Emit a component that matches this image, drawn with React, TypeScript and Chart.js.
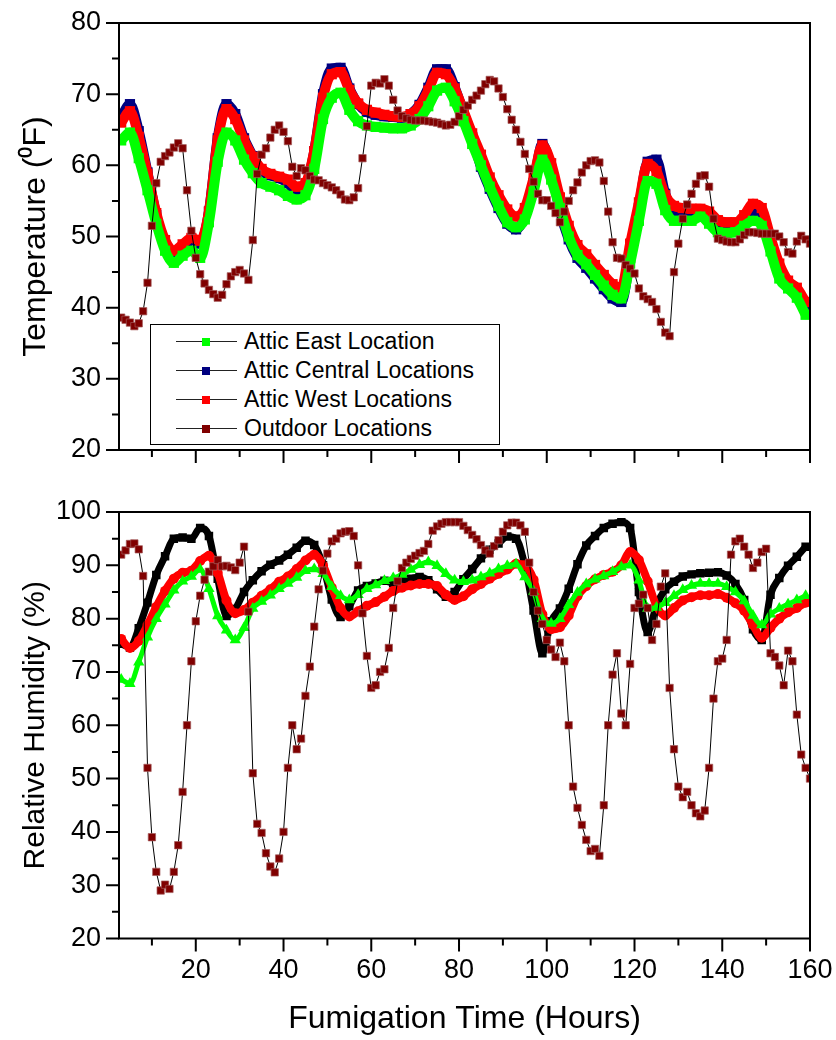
import React, { useEffect, useRef } from 'react';
import { Chart, registerables } from 'chart.js';

Chart.register(...registerables);

const FONT = '"Liberation Sans", Arial, sans-serif';
Chart.defaults.font.family = FONT;

// Sampling hours
const hoursAttic = [3, 5, 7, 9, 11, 13, 15, 17, 19, 21, 23, 25, 27, 29, 31, 33, 35, 37, 39, 41, 43, 45, 47, 49, 51, 53, 55, 57, 59, 61, 63, 65, 67, 69, 71, 73, 75, 77, 79, 81, 83, 85, 87, 89, 91, 93, 95, 97, 99, 101, 103, 105, 107, 109, 111, 113, 115, 117, 119, 121, 123, 125, 127, 129, 131, 133, 135, 137, 139, 141, 143, 145, 147, 149, 151, 153, 155, 157, 159];
const hoursOut = [3, 4, 5, 6, 7, 8, 9, 10, 11, 12, 13, 14, 15, 16, 17, 18, 19, 20, 21, 22, 23, 24, 25, 26, 27, 28, 29, 30, 31, 32, 33, 34, 35, 36, 37, 38, 39, 40, 41, 42, 43, 44, 45, 46, 47, 48, 49, 50, 51, 52, 53, 54, 55, 56, 57, 58, 59, 60, 61, 62, 63, 64, 65, 66, 67, 68, 69, 70, 71, 72, 73, 74, 75, 76, 77, 78, 79, 80, 81, 82, 83, 84, 85, 86, 87, 88, 89, 90, 91, 92, 93, 94, 95, 96, 97, 98, 99, 100, 101, 102, 103, 104, 105, 106, 107, 108, 109, 110, 111, 112, 113, 114, 115, 116, 117, 118, 119, 120, 121, 122, 123, 124, 125, 126, 127, 128, 129, 130, 131, 132, 133, 134, 135, 136, 137, 138, 139, 140, 141, 142, 143, 144, 145, 146, 147, 148, 149, 150, 151, 152, 153, 154, 155, 156, 157, 158, 159, 160];

// Temperature (F)
const tempEast = [63.5, 64.6, 61.0, 56.5, 51.8, 48.0, 46.3, 47.3, 48.0, 47.0,
  52.0, 60.5, 64.6, 63.5, 60.8, 58.9, 57.5, 57.0, 56.5, 55.7,
  55.2, 55.8, 59.5, 66.5, 69.5, 70.2, 67.8, 66.2, 65.6, 65.4,
  65.3, 65.2, 65.2, 65.6, 66.5, 68.3, 70.5, 70.9, 69.0, 66.2,
  63.0, 60.0, 57.0, 54.3, 52.0, 51.3, 52.4, 56.3, 60.8, 58.0,
  54.0, 50.0, 47.4, 46.1, 44.6, 43.1, 41.8, 41.3, 46.2, 52.2,
  57.8, 57.4, 53.7, 52.2, 52.2, 52.2, 52.8, 51.8, 50.6, 50.5,
  50.6, 51.5, 52.2, 51.5, 47.9, 44.1, 42.7, 41.4, 39.0];
const tempCentral = [66.8, 68.6, 64.8, 59.0, 53.0, 48.8, 47.0, 48.0, 49.5, 49.0,
  53.5, 63.8, 68.6, 67.2, 63.8, 61.3, 59.2, 58.6, 58.2, 57.5,
  56.3, 57.0, 62.0, 70.0, 73.6, 73.7, 70.8, 68.6, 67.5, 67.1,
  66.9, 66.8, 66.7, 67.2, 68.5, 70.9, 73.5, 73.5, 71.0, 67.5,
  64.0, 59.8, 56.7, 54.0, 51.8, 51.0, 52.8, 57.5, 63.0, 59.5,
  53.6, 49.6, 47.0, 45.6, 44.1, 42.6, 41.3, 40.8, 47.0, 54.0,
  60.5, 60.8, 56.0, 53.5, 53.2, 53.0, 53.2, 52.5, 51.3, 51.1,
  51.2, 52.0, 53.3, 53.0, 48.6, 45.0, 43.0, 42.0, 39.8];
const tempWest = [66.0, 67.6, 64.0, 58.8, 53.3, 49.5, 48.0, 48.9, 49.8, 49.4,
  53.5, 63.5, 67.9, 66.5, 63.5, 61.2, 59.5, 58.8, 58.4, 58.0,
  57.0, 57.5, 62.0, 69.5, 72.8, 73.1, 70.6, 68.7, 67.8, 67.4,
  67.1, 66.9, 66.8, 67.2, 68.3, 70.5, 73.0, 72.8, 70.8, 67.7,
  64.5, 61.5, 58.3, 55.8, 53.8, 52.8, 54.0, 58.2, 62.8, 60.3,
  55.5, 51.5, 48.8, 47.5, 46.0, 44.6, 43.3, 42.8, 49.0, 54.8,
  60.2, 59.2, 55.8, 54.3, 54.0, 53.9, 53.9, 53.5, 52.3, 52.0,
  52.0, 53.0, 54.6, 54.0, 49.9, 46.2, 43.8, 42.8, 40.8];
const tempOutdoor = [38.6, 38.3, 37.9, 37.4, 37.8, 39.5, 43.5, 51.5, 57.5, 60.5,
  61.3, 61.8, 62.5, 63.1, 62.4, 56.5, 50.8, 47.0, 44.7, 43.4,
  42.5, 41.9, 41.4, 41.8, 43.3, 44.4, 45.0, 45.3, 44.8, 43.9,
  49.5, 58.8, 61.5, 62.4, 63.9, 65.0, 65.6, 64.7, 63.4, 59.8,
  58.5, 59.6, 59.3, 58.5, 58.0, 57.9, 57.5, 57.2, 56.9, 56.5,
  55.9, 55.2, 55.1, 55.5, 56.8, 61.0, 65.5, 71.2, 71.6, 71.5,
  72.1, 71.2, 69.2, 67.7, 66.9, 66.6, 66.4, 66.3, 66.3, 66.3,
  66.2, 66.1, 66.0, 65.8, 65.6, 65.7, 66.1, 66.9, 67.8, 68.4,
  69.2, 69.8, 70.5, 71.4, 72.0, 71.8, 70.8, 69.6, 67.9, 66.4,
  65.0, 63.3, 61.6, 59.5, 57.7, 56.0, 55.1, 55.1, 54.3, 53.3,
  52.0, 53.5, 55.0, 56.5, 57.6, 59.0, 60.0, 60.6, 60.7, 60.4,
  57.8, 53.5, 49.2, 47.0, 46.9, 46.0, 45.5, 44.8, 42.7, 41.6,
  41.2, 40.8, 39.8, 38.0, 36.5, 36.0, 45.0, 49.0, 52.5, 54.5,
  56.0, 57.4, 58.5, 58.6, 57.0, 52.5, 49.7, 49.5, 49.3, 49.2,
  49.2, 49.6, 50.2, 50.6, 50.6, 50.5, 50.4, 50.4, 50.4, 50.4,
  50.0, 49.2, 47.8, 47.6, 49.3, 50.1, 49.6, 49.0];

// Relative humidity (%)
const rhEast = [68.6, 67.8, 71.8, 76.5, 80.0, 82.7, 85.3, 87.0, 87.9, 89.2,
  85.6, 80.5, 77.8, 76.0, 78.3, 81.9, 83.2, 84.4, 85.6, 86.6,
  87.7, 89.0, 89.3, 88.4, 86.0, 84.3, 83.5, 84.5, 85.6, 86.3,
  87.1, 87.6, 88.3, 89.2, 90.1, 90.6, 89.9, 88.4, 87.2, 86.9,
  87.2, 87.8, 88.5, 89.3, 89.9, 90.2, 87.8, 85.1, 80.0, 79.1,
  80.0, 82.6, 84.9, 86.5, 87.4, 88.0, 88.8, 89.7, 90.0, 87.2,
  81.9, 82.1, 83.0, 84.3, 85.4, 86.2, 86.6, 86.6, 86.6, 86.0,
  85.0, 83.3, 80.6, 78.8, 80.8, 81.9, 82.7, 83.5, 84.3];
const rhCentral = [75.3, 74.6, 78.2, 83.0, 88.2, 91.7, 95.0, 95.2, 95.0, 97.0,
  95.5, 87.5, 80.5, 81.8, 85.0, 87.2, 88.9, 90.1, 90.9, 92.0,
  93.3, 94.6, 93.8, 90.0, 83.6, 80.3, 82.3, 85.3, 86.1, 86.6,
  87.1, 86.7, 87.2, 87.5, 87.8, 87.2, 85.5, 84.1, 85.0, 87.4,
  89.3, 91.3, 92.9, 94.1, 95.4, 95.0, 90.0, 81.5, 73.5, 79.5,
  81.9, 85.6, 90.2, 93.7, 95.5, 97.0, 97.8, 98.1, 97.0, 85.0,
  77.5, 82.5, 85.5, 86.9, 87.9, 88.3, 88.5, 88.6, 88.7, 88.1,
  86.5, 83.5, 78.0, 76.0, 84.5, 87.6, 89.9, 91.6, 93.5];
const rhWest = [76.2, 74.5, 75.8, 78.8, 82.2, 85.2, 87.5, 88.6, 89.0, 90.8,
  91.8, 88.6, 83.4, 81.0, 81.6, 83.0, 84.3, 85.5, 86.9, 87.9,
  89.3, 90.9, 92.0, 90.0, 85.8, 82.0, 80.4, 81.4, 82.4, 83.1,
  84.1, 85.2, 85.8, 86.2, 86.5, 86.5, 86.1, 84.5, 83.5, 84.2,
  85.5, 86.5, 87.5, 88.4, 89.2, 90.3, 90.0, 87.3, 80.8, 78.0,
  78.4, 80.6, 84.2, 86.1, 87.4, 88.2, 88.8, 90.0, 92.5, 91.0,
  87.0, 82.4, 80.6, 82.0, 83.4, 84.0, 84.4, 84.4, 84.6, 83.9,
  82.9, 81.5, 78.8, 76.4, 78.3, 80.0, 81.2, 82.0, 83.0];
const rhOutdoor = [92.0, 92.8, 94.0, 94.1, 93.0, 88.0, 52.0, 39.0, 32.5, 29.0,
  30.1, 29.3, 32.5, 37.5, 47.5, 60.0, 72.0, 79.5, 84.3, 87.3,
  88.8, 89.8, 91.0, 89.8, 89.9, 89.6, 89.1, 90.5, 93.5, 81.3,
  51.0, 41.5, 39.8, 36.0, 33.5, 32.4, 35.0, 40.0, 52.0, 60.0,
  55.5, 57.5, 65.5, 71.0, 78.5, 85.5, 89.0, 92.2, 94.5, 95.0,
  96.0, 96.3, 96.4, 95.5, 90.0, 81.0, 73.0, 67.0, 67.5, 70.0,
  70.5, 74.5, 82.0, 87.0, 89.5, 90.5, 91.2, 91.8, 92.3, 92.7,
  94.0, 96.5, 97.3, 97.8, 98.1, 98.1, 98.1, 98.1, 97.4, 96.6,
  95.7, 94.9, 93.8, 92.8, 92.2, 93.6, 94.7, 96.3, 97.5, 98.0,
  98.0, 97.5, 96.3, 90.5, 85.0, 81.5, 79.0, 76.0, 74.2, 72.8,
  75.5, 72.0, 60.0, 48.5, 44.5, 41.3, 38.5, 36.4, 36.8, 35.5,
  45.0, 60.0, 69.5, 73.5, 62.2, 60.0, 71.5, 82.0, 82.8, 84.5,
  82.0, 76.0, 79.0, 86.0, 88.5, 67.0, 55.5, 48.5, 46.5, 47.5,
  45.0, 43.5, 42.9, 44.0, 52.0, 65.0, 72.0, 72.5, 76.0, 92.0,
  94.5, 95.0, 93.5, 92.0, 89.5, 90.5, 92.5, 93.1, 73.5, 72.8,
  71.2, 67.5, 74.0, 72.0, 62.0, 54.5, 52.0, 50.0];

// Ticks
const xTickValues = [10, 20, 30, 40, 50, 60, 70, 80, 90, 100, 110, 120, 130, 140, 150, 160];
const tempTickValues = [20, 25, 30, 35, 40, 45, 50, 55, 60, 65, 70, 75, 80];
const rhTickValues = [20, 25, 30, 35, 40, 45, 50, 55, 60, 65, 70, 75, 80, 85, 90, 95, 100];

const legendItems = [
  { label: 'Attic East Location', color: '#00ff00' },
  { label: 'Attic Central Locations', color: '#000080' },
  { label: 'Attic West Locations', color: '#ff0000' },
  { label: 'Outdoor Locations', color: '#800000' },
];

const pts = (hours: number[], vals: number[]) => hours.map((h, i) => ({ x: h, y: vals[i] }));

const framePlugin = {
  id: 'frame',
  afterDraw(chart: any, _args: any, opts: any) {
    const { ctx, chartArea: a, scales } = chart;
    const x = scales.x;
    const y = scales.y;
    ctx.save();
    ctx.strokeStyle = '#000';
    ctx.lineWidth = 2;
    ctx.strokeRect(a.left, a.top, a.right - a.left, a.bottom - a.top);
    ctx.beginPath();
    for (const v of opts.xTicks) {
      const px = x.getPixelForValue(v);
      const len = v % 20 === 0 ? 13 : 7;
      ctx.moveTo(px, a.bottom);
      ctx.lineTo(px, a.bottom + len);
    }
    for (const v of opts.yTicks) {
      const py = y.getPixelForValue(v);
      const len = v % 10 === 0 ? 13 : 7;
      ctx.moveTo(a.left - len, py);
      ctx.lineTo(a.left, py);
    }
    ctx.stroke();
    ctx.restore();
  },
};

const outdoorStyle = {
  borderColor: '#000',
  borderWidth: 1,
  pointStyle: 'rect',
  pointRadius: 5.2,
  pointBackgroundColor: '#800000',
  pointBorderColor: '#a35a5a',
  pointBorderWidth: 0.7,
  tension: 0,
  clip: 0,
};

const band = (color: string, width: number, style: string, radius: number) => ({
  borderColor: color,
  borderWidth: width,
  pointStyle: style,
  pointRadius: radius,
  pointBackgroundColor: color,
  pointBorderWidth: 0,
  cubicInterpolationMode: 'monotone',
  borderJoinStyle: 'round',
  clip: 0,
});

const xScale = (showLabels: boolean, height: number, title?: string) => ({
  type: 'linear',
  min: 2.5,
  max: 160,
  grid: { display: false, drawTicks: true, tickLength: 13 },
  border: { display: false },
  ticks: {
    display: showLabels,
    stepSize: 20,
    autoSkip: false,
    maxRotation: 0,
    padding: 3,
    color: '#000',
    font: { family: FONT, size: 27 },
    callback: (v: number) => (v % 20 === 0 ? String(v) : ''),
  },
  title: title
    ? { display: true, text: title, color: '#000', font: { family: FONT, size: 32 }, padding: { top: 0, bottom: 2 } }
    : { display: false },
  afterFit: (s: any) => {
    s.height = height;
  },
});

const yScale = (min: number, max: number, title: string, size: number) => ({
  type: 'linear',
  min,
  max,
  grid: { display: false, drawTicks: true, tickLength: 13 },
  border: { display: false },
  ticks: {
    stepSize: 10,
    padding: 5,
    color: '#000',
    font: { family: FONT, size: 27 },
  },
  title: { display: true, text: title, color: '#000', font: { family: FONT, size }, padding: { top: 36 - size * 0.6, bottom: 0 } },
  afterFit: (s: any) => {
    s.width = 119;
  },
});

function topConfig(): any {
  return {
    type: 'line',
    data: {
      datasets: [
        { label: 'Outdoor Locations', data: pts(hoursOut, tempOutdoor), ...outdoorStyle },
        { label: 'Attic East Location', data: pts(hoursAttic, tempEast), ...band('#00ff00', 10, 'rect', 7.2) },
        { label: 'Attic West Locations', data: pts(hoursAttic, tempWest), ...band('#ff0000', 10, 'rect', 7.2) },
        { label: 'Attic Central Locations', data: pts(hoursAttic, tempCentral), ...band('#000080', 10, 'rect', 7.2) },
      ],
    },
    options: {
      animation: false,
      responsive: false,
      devicePixelRatio: 1,
      layout: { padding: { top: 23, right: 26, bottom: 0, left: 0 } },
      plugins: {
        legend: { display: false },
        tooltip: { enabled: false },
        frame: { xTicks: xTickValues, yTicks: tempTickValues },
      },
      scales: {
        x: xScale(false, 30),
        y: yScale(20, 80, 'Temperature (\u2070F)', 32),
      },
    },
    plugins: [framePlugin],
  };
}

function bottomConfig(): any {
  return {
    type: 'line',
    data: {
      datasets: [
        { label: 'Outdoor Locations', data: pts(hoursOut, rhOutdoor), ...outdoorStyle },
        { label: 'Attic East Location', data: pts(hoursAttic, rhEast), ...band('#00ff00', 5, 'triangle', 6.5) },
        { label: 'Attic West Locations', data: pts(hoursAttic, rhWest), ...band('#ff0000', 8, 'circle', 5) },
        { label: 'Attic Central Locations', data: pts(hoursAttic, rhCentral), ...band('#000000', 7, 'rect', 6) },
      ],
    },
    options: {
      animation: false,
      responsive: false,
      devicePixelRatio: 1,
      layout: { padding: { top: 32, right: 26, bottom: 0, left: 0 } },
      plugins: {
        legend: { display: false },
        tooltip: { enabled: false },
        frame: { xTicks: xTickValues, yTicks: rhTickValues },
      },
      scales: {
        x: xScale(true, 101.5, 'Fumigation Time (Hours)'),
        y: yScale(20, 100, 'Relative Humidity (%)', 30),
      },
    },
    plugins: [framePlugin],
  };
}

function Legend() {
  return (
    <div
      style={{
        position: 'absolute',
        left: 150,
        top: 324,
        width: 350,
        height: 121,
        border: '1.5px solid #000',
        boxSizing: 'border-box',
        background: '#fff',
        fontFamily: FONT,
      }}
    >
      {legendItems.map((it, i) => (
        <div key={it.label} style={{ position: 'absolute', left: 0, top: 2 + i * 29, width: 340, height: 29 }}>
          <div style={{ position: 'absolute', left: 25, top: 14, width: 61, height: 1, background: '#222' }} />
          <div style={{ position: 'absolute', left: 51, top: 10.5, width: 8, height: 8, background: it.color }} />
          <div
            style={{
              position: 'absolute',
              left: 93,
              top: 0,
              height: 29,
              lineHeight: '29px',
              fontSize: 23,
              color: '#000',
              whiteSpace: 'nowrap',
            }}
          >
            {it.label}
          </div>
        </div>
      ))}
    </div>
  );
}

export default function App() {
  const topRef = useRef<HTMLCanvasElement>(null);
  const botRef = useRef<HTMLCanvasElement>(null);

  useEffect(() => {
    document.body.style.margin = '0';
    const c1 = new Chart(topRef.current as HTMLCanvasElement, topConfig());
    const c2 = new Chart(botRef.current as HTMLCanvasElement, bottomConfig());
    return () => {
      c1.destroy();
      c2.destroy();
    };
  }, []);

  return (
    <div style={{ position: 'relative', width: 836, height: 1040, background: '#fff', overflow: 'hidden' }}>
      <canvas ref={topRef} width={836} height={480} style={{ position: 'absolute', left: 0, top: 0 }} />
      <canvas ref={botRef} width={836} height={560} style={{ position: 'absolute', left: 0, top: 480 }} />
      <Legend />
    </div>
  );
}
